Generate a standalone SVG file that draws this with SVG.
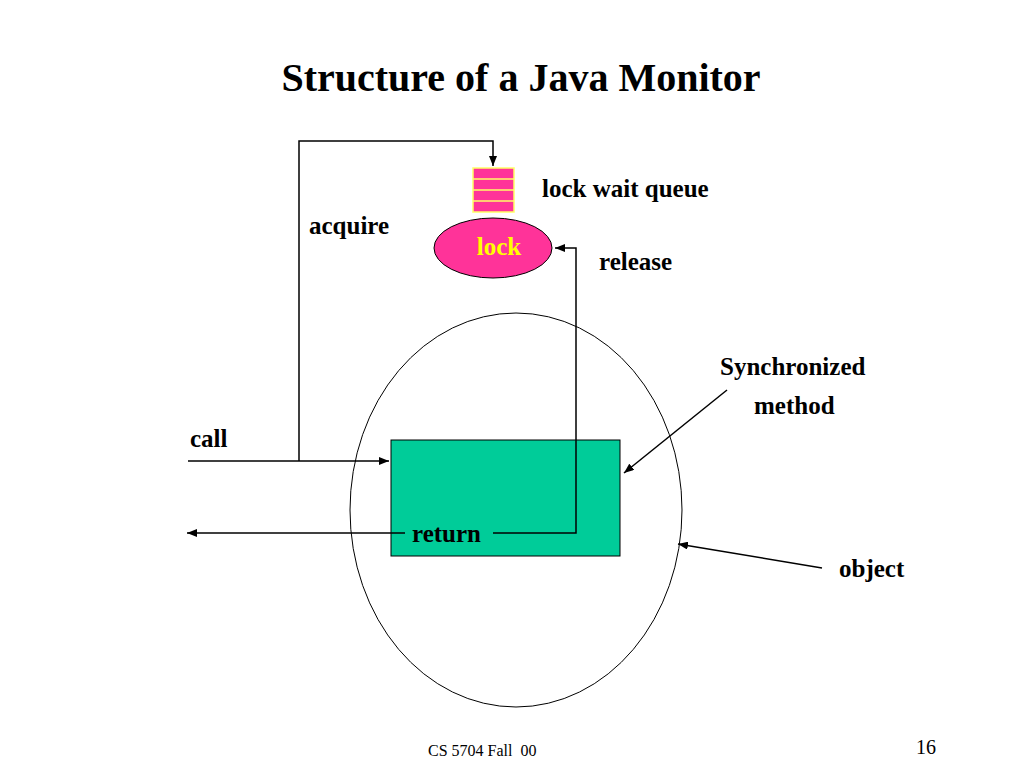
<svg xmlns="http://www.w3.org/2000/svg" width="1024" height="768" viewBox="0 0 1024 768">
<defs>
<marker id="a" markerWidth="10" markerHeight="8" refX="10" refY="4" orient="auto" markerUnits="userSpaceOnUse"><path d="M0,0L10,4L0,8z" fill="#000"/></marker>
</defs>
<style>
text{font-family:"Liberation Serif",serif;font-weight:bold;font-size:25px;fill:#000}
.l{fill:none;stroke:#000;stroke-width:1.5}
</style>
<rect width="1024" height="768" fill="#fff"/>
<text x="521" y="91" text-anchor="middle" style="font-size:40px">Structure of a Java Monitor</text>
<g id="object"><ellipse cx="516" cy="510" rx="166" ry="197" fill="none" stroke="#000" stroke-width="1"/></g>
<g id="method"><rect x="391" y="440" width="229" height="116" fill="#00cc99" stroke="#000" stroke-width="1"/></g>
<g id="queue"><rect x="473" y="168" width="41" height="44" fill="#ff3399" stroke="#ffff66" stroke-width="1.5"/>
<path d="M473,179H514M473,190H514M473,201H514" stroke="#ffff66" stroke-width="1.5"/></g>
<g id="lock"><ellipse cx="493" cy="248" rx="59" ry="30" fill="#ff3399" stroke="#000" stroke-width="1"/>
<text x="499" y="255" text-anchor="middle" style="fill:#ffff00">lock</text></g>
<g id="connectors">
<path class="l" d="M188,461H389" marker-end="url(#a)"/>
<path class="l" d="M299,461V141H493V166" marker-end="url(#a)"/>
<path class="l" d="M493,533H576V248H555" marker-end="url(#a)"/>
<path class="l" d="M405,533H187" marker-end="url(#a)"/>
<path class="l" d="M727,390L624,473" marker-end="url(#a)"/>
<path class="l" d="M822,568L678,544" marker-end="url(#a)"/>
</g>
<text x="542" y="197">lock wait queue</text>
<text x="309" y="234">acquire</text>
<text x="599" y="270">release</text>
<text x="720" y="375">Synchronized</text>
<text x="754" y="414">method</text>
<text x="190" y="447">call</text>
<text x="412" y="542">return</text>
<text x="839" y="577">object</text>
<text x="428" y="756" xml:space="preserve" style="font-weight:normal;font-size:16px">CS 5704 Fall  00</text>
<text x="916" y="754" style="font-weight:normal;font-size:20px">16</text>
</svg>
